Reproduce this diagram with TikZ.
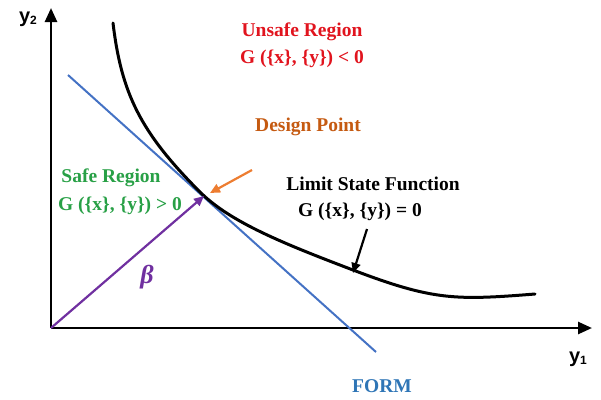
\documentclass[tikz,border=0pt]{standalone}
\usepackage{fontspec}
\setmainfont{Liberation Serif}
\setsansfont{Liberation Sans}
\usetikzlibrary{arrows.meta}
\definecolor{unsafered}{RGB}{225,20,30}
\definecolor{safegreen}{RGB}{40,160,70}
\definecolor{dptext}{RGB}{197,90,17}
\definecolor{dparrow}{RGB}{237,125,49}
\definecolor{formline}{RGB}{68,114,196}
\definecolor{formtext}{RGB}{46,117,182}
\definecolor{betapurple}{RGB}{112,48,160}
\tikzset{
  lbl/.style={font=\fontsize{19.5}{22}\selectfont\bfseries, inner sep=0pt},
  axlbl/.style={font=\fontsize{20}{22}\selectfont\sffamily\bfseries, inner sep=0pt},
  axis/.style={line width=2.6pt, -{Triangle[length=14pt,width=12pt]}},
  ptr/.style={line width=2.2pt, -{Triangle[length=10pt,width=9pt]}},
}
\begin{document}
\begin{tikzpicture}[x=1pt,y=-1pt]
\useasboundingbox (0,0) rectangle (601,399);
% axes
\coordinate (O) at (51,328);
\coordinate (ytip) at (51,8);
\coordinate (xtip) at (592,328);
\draw[axis] (O) -- (ytip);
\draw[axis] (O) -- (xtip);
\node[axlbl] (y2) at (28,19) {y\raisebox{-2pt}{\fontsize{12}{12}\selectfont 2}};
\node[axlbl] (y1) at (578,359) {y\raisebox{-2pt}{\fontsize{12}{12}\selectfont 1}};
% FORM line
\coordinate (fa) at (68,75);
\coordinate (fb) at (376,352);
\draw[formline, line width=2pt] (fa) -- (fb);
% limit state curve
\coordinate (c0) at (113,23);
\coordinate (c1) at (200,192);
\coordinate (c2) at (353,270);
\coordinate (c3) at (535,294);
\draw[black, line width=3pt, line cap=round]
  (c0) .. controls (121.4,93) and (140,132) .. (c1)
       .. controls (230,222) and (283,243.4) .. (c2)
       .. controls (433,300.4) and (455,300.4) .. (c3);
% design point
\coordinate (DP) at (204,196);
% beta arrow
\draw[betapurple, ptr] (O) -- (DP);
\node[inner sep=0pt, text=betapurple, font=\fontsize{26}{28}\selectfont\bfseries\itshape] (beta) at (147,277) {β};
% labels
\node[lbl, text=unsafered] (unsafe) at (302,32) {Unsafe Region};
\node[lbl, text=unsafered] (unsafeG) at (302,59) {G (\{x\}, \{y\}) < 0};
\node[lbl, text=dptext] (dp) at (308,127) {Design Point};
\node[lbl, text=safegreen] (safe) at (111,178) {Safe Region};
\node[lbl, text=safegreen] (safeG) at (120,206) {G (\{x\}, \{y\}) > 0};
\node[lbl] (lsf) at (373,184) {Limit State Function};
\node[lbl] (lsfG) at (360,212) {G (\{x\}, \{y\}) = 0};
\node[lbl, text=formtext] (form) at (382,386) {FORM};
% orange arrow
\coordinate (oa) at (252,170);
\coordinate (ob) at (210,193);
\draw[dparrow, ptr] (oa) -- (ob);
% black arrow
\coordinate (ba) at (367,229);
\coordinate (bb) at (353,273);
\draw[black, ptr] (ba) -- (bb);
\end{tikzpicture}
\end{document}
